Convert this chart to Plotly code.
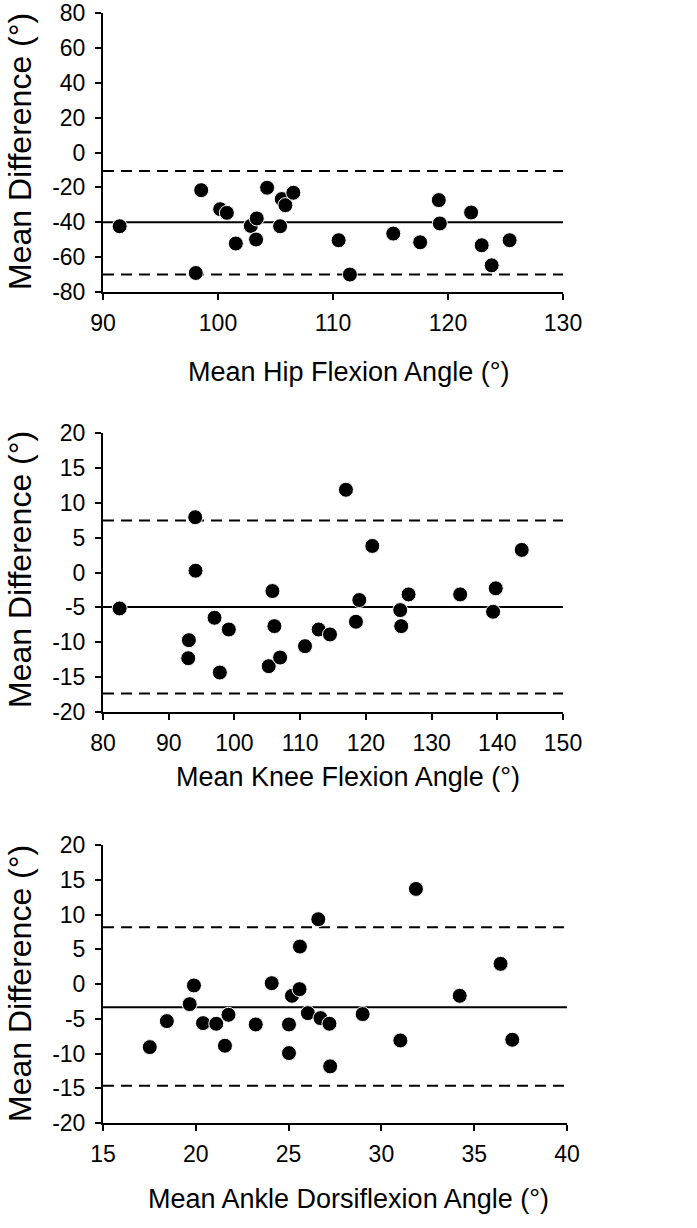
import plotly.graph_objects as go

W, H = 697, 1228

# ---------------- data ----------------
hip_x = [91.45, 98.54, 98.07, 100.19, 100.77, 101.55, 102.85, 103.37, 103.31, 104.27,
         105.40, 105.54, 105.86, 106.55, 110.49, 111.47, 115.24, 117.58, 119.20, 119.29,
         122.01, 122.93, 123.80, 125.36]
hip_y = [-42.3, -21.6, -69.1, -32.5, -34.6, -52.2, -42.1, -37.8, -49.9, -20.2,
         -42.3, -26.7, -30.2, -23.1, -50.3, -70.0, -46.5, -51.5, -27.3, -40.7,
         -34.4, -53.2, -64.7, -50.3]
hip_lines = [-40.0, -10.6, -70.0]   # mean, upper LoA, lower LoA

knee_x = [82.53, 93.07, 92.97, 94.03, 94.08, 96.97, 97.78, 99.15, 105.22, 105.78,
          106.08, 106.95, 110.74, 112.82, 114.54, 116.97, 118.49, 119.00, 120.98, 125.23,
          125.38, 126.50, 134.35, 139.77, 139.36, 143.72]
knee_y = [-5.15, -9.70, -12.29, 7.93, 0.26, -6.49, -14.34, -8.17, -13.43, -2.66,
          -7.69, -12.19, -10.56, -8.17, -8.88, 11.86, -7.06, -3.95, 3.81, -5.39,
          -7.69, -3.14, -3.14, -2.27, -5.63, 3.24]
knee_lines = [-4.96, 7.45, -17.36]

ankle_x = [17.52, 18.44, 19.67, 19.90, 20.39, 21.10, 21.57, 21.76, 23.23, 24.09,
           25.02, 25.02, 25.18, 25.59, 25.61, 26.04, 26.60, 26.72, 27.20, 27.24,
           28.99, 31.02, 31.86, 34.22, 36.42, 37.05]
ankle_y = [-9.08, -5.34, -2.90, -0.21, -5.63, -5.72, -8.88, -4.43, -5.82, 0.12,
           -5.82, -9.94, -1.70, -0.74, 5.39, -4.19, 9.32, -4.91, -5.72, -11.85,
           -4.33, -8.12, 13.68, -1.70, 2.90, -8.02]
ankle_lines = [-3.33, 8.17, -14.63]

x_titles = ["Mean Hip Flexion Angle (°)", "Mean Knee Flexion Angle (°)",
            "Mean Ankle Dorsiflexion Angle (°)"]
y_title = "Mean Difference (°)"

x_ranges = [[90, 130], [80, 150], [15, 40]]
x_tickvals = [[90, 100, 110, 120, 130],
              [80, 90, 100, 110, 120, 130, 140, 150],
              [15, 20, 25, 30, 35, 40]]
y_ranges = [[-80, 80], [-20, 20], [-20, 20]]
y_tickvals = [[-80, -60, -40, -20, 0, 20, 40, 60, 80],
              [-20, -15, -10, -5, 0, 5, 10, 15, 20],
              [-20, -15, -10, -5, 0, 5, 10, 15, 20]]
# tick labels use an ASCII hyphen for negatives, as in the original
x_ticktext = [[str(v) for v in tv] for tv in x_tickvals]
y_ticktext = [[str(v) for v in tv] for tv in y_tickvals]

# ---------------- layout geometry (pixels) ----------------
panels = [
    dict(x0=103, x1=563, top=13, bottom=292, xt_y=372, yt_y=152),
    dict(x0=103, x1=563, top=433, bottom=712, xt_y=777, yt_y=570),
    dict(x0=103, x1=567, top=845, bottom=1123, xt_y=1199, yt_y=984),
]

def px(x):
    return x / W

def py(y):
    return 1 - y / H

FONT = "Liberation Sans, Arial, sans-serif"

fig = go.Figure()
datasets = [(hip_x, hip_y, hip_lines), (knee_x, knee_y, knee_lines), (ankle_x, ankle_y, ankle_lines)]

layout = dict(
    template="none",
    width=W, height=H, autosize=False,
    margin=dict(l=0, r=0, t=0, b=0, autoexpand=False),
    paper_bgcolor="white", plot_bgcolor="white",
    showlegend=False,
    font=dict(family=FONT, color="black"),
)
shapes = []
annotations = []

for i, ((xs, ys, lines), p) in enumerate(zip(datasets, panels)):
    n = i + 1
    xa = "x" if n == 1 else f"x{n}"
    ya = "y" if n == 1 else f"y{n}"
    fig.add_trace(go.Scatter(
        x=xs, y=ys, mode="markers", xaxis=xa, yaxis=ya,
        marker=dict(size=15, color="black", line=dict(color="white", width=1)),
        hoverinfo="skip"))
    axis_common = dict(
        showline=True, linecolor="black", linewidth=2,
        ticks="outside", ticklen=6, tickwidth=2, tickcolor="black",
        showgrid=False, zeroline=False, automargin=False,
        tickfont=dict(family=FONT, size=23, color="black"),
    )
    layout[f"xaxis{'' if n == 1 else n}"] = dict(
        axis_common, domain=[px(p["x0"]), px(p["x1"])], range=x_ranges[i],
        tickmode="array", tickvals=x_tickvals[i], ticktext=x_ticktext[i],
        anchor=ya, ticklabelstandoff=3)
    layout[f"yaxis{'' if n == 1 else n}"] = dict(
        axis_common, domain=[py(p["bottom"]), py(p["top"])], range=y_ranges[i],
        tickmode="array", tickvals=y_tickvals[i], ticktext=y_ticktext[i],
        anchor=xa, ticklabelstandoff=5)
    for k, val in enumerate(lines):
        shapes.append(dict(
            type="line", xref=f"{xa} domain", yref=ya, x0=0, x1=1, y0=val, y1=val,
            line=dict(color="black", width=2, dash="solid" if k == 0 else "11px,7px"),
            layer="below"))
    annotations.append(dict(
        text=x_titles[i], xref="paper", yref="paper", x=px(348), y=py(p["xt_y"]),
        xanchor="center", yanchor="middle", showarrow=False,
        font=dict(family=FONT, size=27, color="black")))
    annotations.append(dict(
        text=y_title, xref="paper", yref="paper", x=px(20), y=py(p["yt_y"]),
        xanchor="center", yanchor="middle", showarrow=False, textangle=-90,
        font=dict(family=FONT, size=32, color="black")))

layout["shapes"] = shapes
layout["annotations"] = annotations
fig.update_layout(**layout)
fig.write_html(
    "out.html",
    config={"displayModeBar": False},
    post_script="document.body.style.margin='0';document.body.style.padding='0';",
)
